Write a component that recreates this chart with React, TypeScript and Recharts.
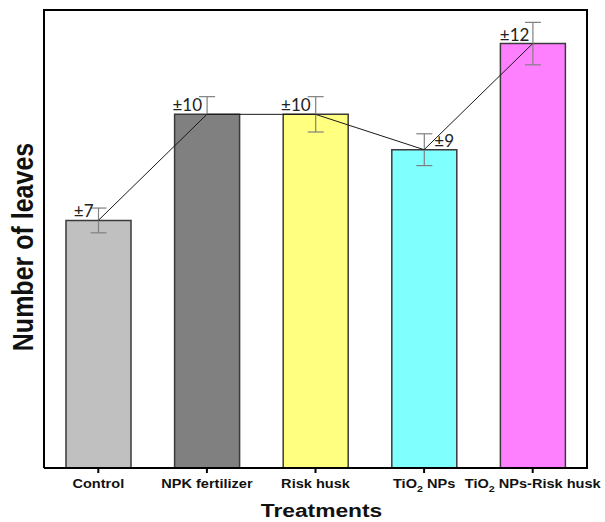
import React from "react";
import { ComposedChart, Bar, Line, XAxis, YAxis, ErrorBar, Cell, LabelList, Rectangle } from "recharts";

const categories = ["Control", "NPK fertilizer", "Risk husk", "TiO2 NPs", "TiO2 NPs-Risk husk"];
const leaves = [140, 200, 200, 180, 240];
const errors = [7, 10, 10, 9, 12];
const yMax = 259;

const barColors = ["#c0c0c0", "#808080", "#ffff80", "#80ffff", "#ff80ff"];

const data = categories.map((c, i) => ({ name: c, value: leaves[i], err: errors[i] }));

const CHART_W = 605;
const CHART_H = 522;
const MARGIN = { top: 10, right: 18, bottom: 0, left: 0 };
const YAXIS_W = 44;
const XAXIS_H = 54;
const TICK_FONT = "'Liberation Sans', Arial, sans-serif";

const renderTickText = (label: string) => {
  if (label.startsWith("TiO2")) {
    const rest = label.slice(4);
    return (
      <>
        <tspan>TiO</tspan>
        <tspan fontSize={9.5} dy={3.5}>2</tspan>
        <tspan dy={-3.5}>{rest}</tspan>
      </>
    );
  }
  return label;
};

const CategoryTick = (props: any) => {
  const { x, y, payload } = props;
  return (
    <g transform={`translate(${x},${y + 13}) scale(1.12,1)`}>
      <text x={0} y={0} textAnchor="middle" fontFamily={TICK_FONT} fontWeight="bold" fontSize={13} fill="#111">
        {renderTickText(String(payload.value))}
      </text>
    </g>
  );
};

const ErrLabel = (props: any) => {
  const { x, y, width, value, index } = props;
  const cx = Number(x) + Number(width) / 2;
  const top = Number(y);
  const right = index === 3;
  const tx = right ? cx + 10 : index === 4 ? cx - 3.5 : cx - 5;
  return (
    <text x={tx} y={top - 3} textAnchor={right ? "start" : "end"} fontFamily="Lato, 'Open Sans', sans-serif" fontSize={17} fill="#222">
      {"±" + value}
    </text>
  );
};

const YTitle = (props: any) => {
  const vb = props.viewBox || {};
  const cy = vb.y + vb.height / 2 + 8;
  return (
    <g transform={`translate(33,${cy}) scale(1.2,1) rotate(-90)`}>
      <text x={0} y={0} textAnchor="middle" fontFamily={TICK_FONT} fontWeight="bold" fontSize={25} fill="#111">
        Number of leaves
      </text>
    </g>
  );
};

const XTitle = (props: any) => {
  const vb = props.viewBox || {};
  const cx = vb.x + vb.width / 2 + 6;
  return (
    <g transform={`translate(${cx},516.5) scale(1.2,1)`}>
      <text x={0} y={0} textAnchor="middle" fontFamily={TICK_FONT} fontWeight="bold" fontSize={19} fill="#111">
        Treatments
      </text>
    </g>
  );
};

// plot frame edges (top and right), from the chart layout constants
const plotLeft = MARGIN.left + YAXIS_W;
const plotRight = CHART_W - MARGIN.right;
const plotTop = MARGIN.top;
const plotBottom = CHART_H - MARGIN.bottom - XAXIS_H;

const BarShape = (props: any) => {
  const { index } = props;
  const last = index === categories.length - 1;
  return (
    <g>
      <Rectangle {...props} fill={barColors[index]} stroke="#3a3a3a" strokeWidth={1.5} />
      {last ? (
        <path
          d={`M${plotLeft},${plotTop} L${plotRight},${plotTop} L${plotRight},${plotBottom}`}
          fill="none"
          stroke="#000"
          strokeWidth={2}
          strokeLinecap="square"
        />
      ) : null}
    </g>
  );
};

export default function App() {
  return (
    <div style={{ position: "absolute", left: 0, top: 0, width: CHART_W, height: CHART_H, background: "#fff" }}>
      <ComposedChart width={CHART_W} height={CHART_H} data={data} margin={MARGIN}>
        <XAxis
          dataKey="name"
          height={XAXIS_H}
          interval={0}
          tick={<CategoryTick />}
          tickSize={5}
          axisLine={{ stroke: "#000", strokeWidth: 2 }}
          tickLine={{ stroke: "#000", strokeWidth: 2 }}
          label={<XTitle />}
        />
        <YAxis
          width={YAXIS_W}
          domain={[0, yMax]}
          tick={false}
          tickLine={false}
          axisLine={{ stroke: "#000", strokeWidth: 2 }}
          label={<YTitle />}
        />
        <Bar
          dataKey="value"
          barSize={65}
          stroke="#3a3a3a"
          strokeWidth={1.5}
          isAnimationActive={false}
          shape={<BarShape />}
        >
          {data.map((d, i) => (
            <Cell key={d.name} fill={barColors[i]} />
          ))}
          <ErrorBar dataKey="err" width={8} stroke="#808080" strokeWidth={1.2} />
          <LabelList dataKey="err" content={<ErrLabel />} />
        </Bar>
        <Line
          dataKey="value"
          type="linear"
          stroke="#1a1a1a"
          strokeWidth={1}
          dot={false}
          activeDot={false}
          isAnimationActive={false}
        />
      </ComposedChart>
    </div>
  );
}
